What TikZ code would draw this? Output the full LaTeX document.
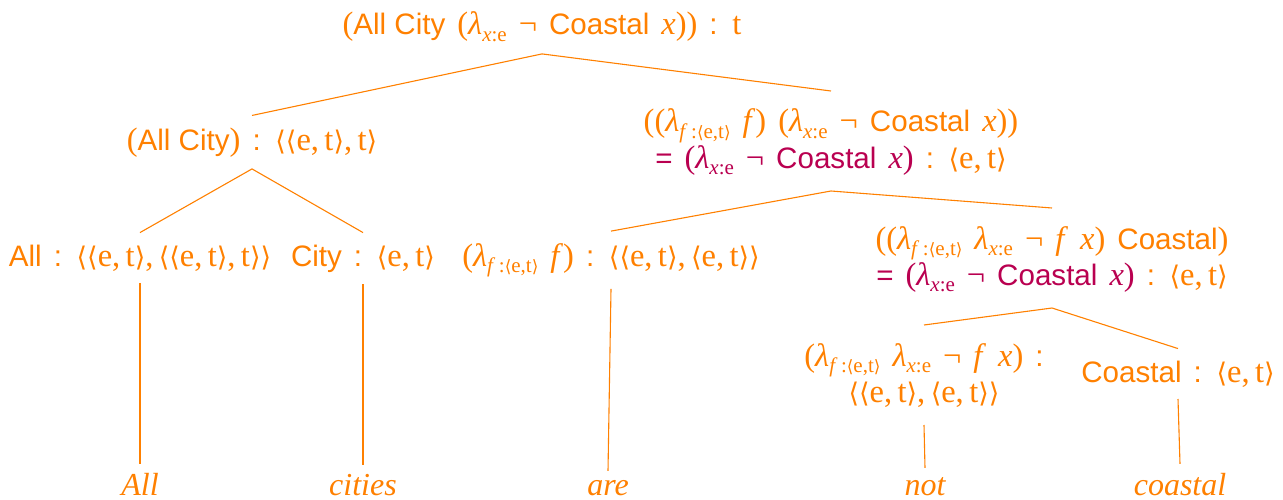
\documentclass[tikz,border=0pt]{standalone}
\usepackage{fontspec}
\setmainfont{Liberation Serif}
\newfontfamily\hsans[Scale=0.91]{Liberation Sans}
\newfontfamily\symf{DejaVu Sans}
\definecolor{org}{RGB}{255,128,0}
\definecolor{crim}{RGB}{185,0,80}
\newcommand{\W}[1]{{\hsans\spaceskip=0pt\relax #1}}
\newcommand{\Lm}{\textit{λ}}
\newcommand{\VX}{\textit{x}}
\newcommand{\VF}{\textit{f}}
\newcommand{\LAng}{{\symf\fontsize{27}{30}\selectfont ⟨}}
\newcommand{\RAng}{{\symf\fontsize{27}{30}\selectfont ⟩}}
\newcommand{\SLAng}{{\symf\fontsize{17}{20}\selectfont ⟨}}
\newcommand{\SRAng}{{\symf\fontsize{17}{20}\selectfont ⟩}}
\newcommand{\Ang}[1]{\LAng#1\RAng}
\newcommand{\ET}{\Ang{e,\,t}}
\newcommand{\Sub}[1]{\raisebox{-0.2em}{\fontsize{21}{22}\selectfont #1}}
\newcommand{\LX}{\Lm\Sub{\VX:e}}
\newcommand{\LF}{\Lm\Sub{\VF\,:\SLAng e,t\SRAng}}
\newcommand{\Neg}{¬}
\newcommand{\TopStrut}{\rule{0pt}{29pt}}
\newcommand{\BotStrut}{\rule[-11pt]{0pt}{11pt}}
\newcommand{\NodeFont}{\fontsize{32.5}{36}\selectfont\spaceskip=12pt plus 2pt\relax}
\newcommand{\LeafFont}{\fontsize{32}{36}\selectfont\itshape}
\begin{document}
\begin{tikzpicture}[x=1pt,y=-1pt,
  lab/.style={text=org, anchor=base, inner xsep=4pt, inner ysep=12pt, outer sep=0pt, align=center,
    font=\NodeFont},
  leaf/.style={lab, inner ysep=9pt, font=\LeafFont},
  edge/.style={draw=org, line width=1.1pt}]
\useasboundingbox (0,0) rectangle (1283,500);
\node[lab] (top) at (542,35) {(\W{All City} (\LX{} \Neg{} \W{Coastal} \VX)) \W{:} t};
\node[lab] (ac) at (252,150) {(\W{All City}) \W{:} \Ang{\ET,\,t}};
\node[lab] (rn) at (831,168) {\TopStrut((\LF{} \VF) (\LX{} \Neg{} \W{Coastal} \VX))\\
  \textcolor{crim}{\W{=} (\LX{} \Neg{} \W{Coastal} \VX)} \W{:} \ET\BotStrut};
\node[lab] (all) at (140,266) {\W{All} \W{:} \Ang{\ET,\,\Ang{\ET,\,t}}};
\node[lab] (city) at (363,266) {\W{City} \W{:} \ET};
\node[lab] (lfn) at (611,266) {(\LF{} \VF) \W{:} \Ang{\ET,\,\ET}};
\node[lab] (rcn) at (1052,285) {\TopStrut((\LF{} \LX{} \Neg{} \VF{} \VX) \W{Coastal})\\
  \textcolor{crim}{\W{=} (\LX{} \Neg{} \W{Coastal} \VX)} \W{:} \ET\BotStrut};
\node[lab] (ln) at (924,402) {\TopStrut(\LF{} \LX{} \Neg{} \VF{} \VX) \W{:}\\
  \Ang{\ET,\,\ET}\BotStrut};
\node[lab] (coast) at (1178,382) {\W{Coastal} \W{:} \ET};
\node[leaf] (wall) at (140,495) {All};
\node[leaf] (wcities) at (363,495) {cities};
\node[leaf] (ware) at (608,495) {are};
\node[leaf] (wnot) at (925,495) {not};
\node[leaf] (wcoastal) at (1180,495) {coastal};
\draw[edge] (ac.north) -- (top.south) -- (rn.north);
\draw[edge] (all.north) -- (ac.south) -- (city.north);
\draw[edge] (lfn.north) -- (rn.south) -- (rcn.north);
\draw[edge] (ln.north) -- (rcn.south) -- (coast.north);
\draw[edge] (all.south) -- (wall.north);
\draw[edge] (city.south) -- (wcities.north);
\draw[edge] (lfn.south) -- (ware.north);
\draw[edge] (ln.south) -- (wnot.north);
\draw[edge] (coast.south) -- (wcoastal.north);
\end{tikzpicture}
\end{document}
